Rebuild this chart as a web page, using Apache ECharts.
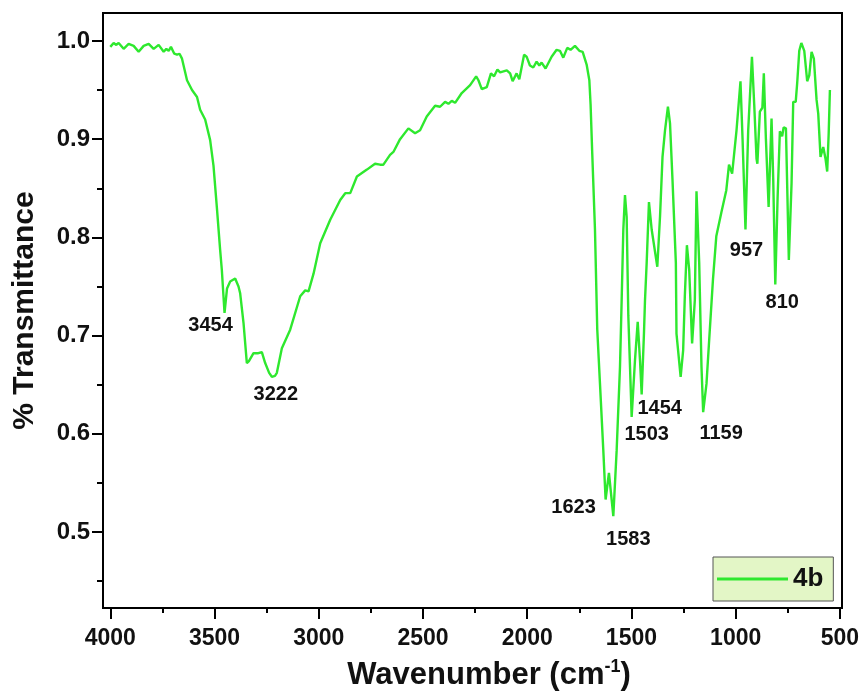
<!DOCTYPE html>
<html>
<head>
<meta charset="utf-8">
<script src="https://cdn.jsdelivr.net/npm/echarts@6/dist/echarts.min.js"></script>
<style>
html,body{margin:0;padding:0;background:#fff;}
#chart{width:865px;height:693px;}
</style>
</head>
<body>
<div id="chart"></div>
<script>
// ---- data ----
const wavenumbers = [
4000,3995,3984,3971,3960,3936,3912,3888,3864,3840,3816,3792,3768,3744,3731,3720,3709,3693,3680,3668,3656,
3632,3608,3584,3569,3545,3521,3505,3489,3473,3465,3452,3440,3425,3401,3385,3377,3361,3345,3335,3313,3290,
3273,3257,3238,3225,3210,3201,3177,3137,3089,3065,3049,3025,2993,2945,2897,2873,2849,2817,2769,2730,2706,
2690,2658,2642,2610,2570,2538,2514,2482,2442,2418,2394,2378,2362,2346,2314,2274,2245,2234,2218,2194,2174,
2159,2143,2130,2098,2082,2070,2051,2038,2015,2003,1987,1971,1955,1942,1931,1912,1883,1859,1843,1827,1808,
1792,1771,1750,1734,1715,1702,1696,1688,1675,1664,1651,1635,1624,1608,1587,1571,1555,1547,1539,1531,1523,
1515,1499,1483,1470,1459,1451,1440,1435,1427,1416,1403,1395,1376,1363,1351,1339,1325,1315,1303,1287,1284,
1264,1252,1244,1234,1223,1209,1196,1188,1175,1164,1156,1140,1127,1109,1093,1069,1045,1032,1017,996,977,
967,953,940,922,911,900,896,884,872,865,855,842,828,820,810,799,788,777,770,759,745,732,724,712,705,695,
685,671,657,647,636,625,612,604,593,580,569,561,554,548
];
const transmittance = [
0.994,0.994,0.998,0.996,0.998,0.992,0.997,0.995,0.989,0.995,0.997,0.992,0.996,0.989,0.992,0.990,0.994,0.987,0.986,0.987,0.982,
0.960,0.950,0.943,0.930,0.920,0.899,0.873,0.831,0.787,0.767,0.723,0.748,0.755,0.758,0.750,0.743,0.713,0.672,0.674,0.682,0.682,
0.683,0.672,0.662,0.658,0.659,0.662,0.687,0.706,0.740,0.746,0.745,0.763,0.794,0.818,0.838,0.845,0.845,0.862,0.869,0.875,0.874,
0.874,0.884,0.887,0.900,0.911,0.906,0.909,0.923,0.934,0.933,0.938,0.936,0.939,0.937,0.947,0.955,0.964,0.960,0.951,0.953,0.967,
0.964,0.971,0.968,0.970,0.967,0.959,0.967,0.961,0.986,0.984,0.975,0.973,0.979,0.975,0.978,0.972,0.984,0.991,0.990,0.983,0.993,
0.991,0.995,0.990,0.989,0.976,0.960,0.935,0.885,0.808,0.706,0.651,0.583,0.533,0.560,0.516,0.583,0.668,0.736,0.808,0.843,0.821,
0.720,0.617,0.675,0.714,0.675,0.640,0.702,0.736,0.774,0.836,0.808,0.806,0.770,0.821,0.882,0.909,0.933,0.916,0.858,0.774,0.702,
0.658,0.685,0.740,0.792,0.767,0.692,0.736,0.847,0.774,0.668,0.622,0.651,0.696,0.757,0.801,0.825,0.848,0.874,0.865,0.909,0.959,
0.900,0.808,0.909,0.984,0.935,0.880,0.875,0.928,0.932,0.967,0.900,0.831,0.921,0.860,0.752,0.840,0.908,0.903,0.912,0.911,0.777,0.855,0.938,0.938,0.957,0.990,
0.998,0.990,0.959,0.965,0.989,0.982,0.940,0.926,0.882,0.892,0.880,0.867,0.905,0.950
];
const peakLabels = ['3454','3222','1623','1583','1503','1454','1159','957','810'];
const peakWavenumbers = [3452,3225,1624,1587,1499,1451,1156,953,810];
const peakTransmittance = [0.723,0.658,0.533,0.516,0.617,0.640,0.622,0.808,0.752];
const xMajorTicks = [500,1000,1500,2000,2500,3000,3500,4000];
const xMinorTicks = [750,1250,1750,2250,2750,3250,3750];
const yMajorTicks = [0.5,0.6,0.7,0.8,0.9,1.0];
const yMinorTicks = [0.45,0.55,0.65,0.75,0.85,0.95];
const seriesName = '4b';

// ---- layout (pixel offsets of peak labels) ----
const labelOffsets = [[-14,13],[4,18],[-32,8],[15,23],[15,17],[18,14],[18,21],[1,21],[7,18]];

const FONT = 'Arial, "Liberation Sans", sans-serif';
const X_MIN = 490, X_MAX = 4035, Y_MIN = 0.4225, Y_MAX = 1.0285;
const lineColor = '#2ee82e';

const chart = echarts.init(document.getElementById('chart'), null, {renderer:'canvas'});
const spectrum = wavenumbers.map((w,i)=>[w, transmittance[i]]);
const peaks = peakWavenumbers.map((w,i)=>({
  value:[w, peakTransmittance[i]],
  name: peakLabels[i],
  label:{offset: labelOffsets[i]}
}));

chart.setOption({
  backgroundColor:'#ffffff',
  animation:false,
  grid:{left:103,right:23,top:13,bottom:85,show:true,borderColor:'#000',borderWidth:2,backgroundColor:'transparent',
    containLabel:false, outerBoundsMode:'none'},
  legend:{
    data:[{name:seriesName, icon:'rect'}], left:713, top:557,
    backgroundColor:'#e3f6c6', borderColor:'#555', borderWidth:1, borderRadius:0,
    padding:[8,10,8,4], itemWidth:71, itemHeight:3,
    itemStyle:{color:lineColor},
    textStyle:{fontSize:26,fontWeight:'bold',color:'#111',fontFamily:FONT,lineHeight:28}
  },
  xAxis:[{
    type:'value', inverse:true, min:X_MIN, max:X_MAX, position:'bottom',
    axisLine:{show:true,lineStyle:{color:'#000',width:2}},
    axisTick:{show:true,customValues:xMajorTicks,length:11,lineStyle:{color:'#000',width:2}},
    axisLabel:{customValues:xMajorTicks,margin:19,fontSize:23,fontWeight:'bold',color:'#111',fontFamily:FONT,
      formatter:v=>String(v)},
    splitLine:{show:false},
    name:'Wavenumber (cm{sup|-1})', nameLocation:'middle', nameGap:50,
    nameTextStyle:{fontSize:31,fontWeight:'bold',color:'#111',fontFamily:FONT,padding:[0,0,0,33],
      rich:{sup:{fontSize:18,fontWeight:'bold',color:'#111',fontFamily:FONT,verticalAlign:'bottom',padding:[0,0,16,0]}}}
  },{
    type:'value', inverse:true, min:X_MIN, max:X_MAX, position:'bottom',
    axisLine:{show:false},
    axisTick:{show:true,customValues:xMinorTicks,length:5,lineStyle:{color:'#000',width:2}},
    axisLabel:{show:false},
    splitLine:{show:false}
  }],
  yAxis:[{
    type:'value', min:Y_MIN, max:Y_MAX, position:'left',
    axisLine:{show:true,lineStyle:{color:'#000',width:2}},
    axisTick:{show:true,customValues:yMajorTicks,length:11,lineStyle:{color:'#000',width:2}},
    axisLabel:{customValues:yMajorTicks,margin:13,fontSize:24,fontWeight:'bold',color:'#111',fontFamily:FONT,
      formatter:v=>Number(v).toFixed(1)},
    splitLine:{show:false},
    name:'% Transmittance', nameLocation:'middle', nameGap:63,
    nameTextStyle:{fontSize:30,fontWeight:'bold',color:'#111',fontFamily:FONT}
  },{
    type:'value', min:Y_MIN, max:Y_MAX, position:'left',
    axisLine:{show:false},
    axisTick:{show:true,customValues:yMinorTicks,length:6,lineStyle:{color:'#000',width:2}},
    axisLabel:{show:false},
    splitLine:{show:false}
  }],
  series:[{
    name:seriesName, type:'line', data:spectrum, xAxisIndex:0, yAxisIndex:0,
    symbol:'none', showSymbol:false, smooth:false,
    lineStyle:{color:lineColor,width:2.4}, itemStyle:{color:lineColor}, z:3
  },{
    name:'peaks', type:'scatter', data:peaks, xAxisIndex:0, yAxisIndex:0,
    symbolSize:0, silent:true, z:4, itemStyle:{opacity:1},
    label:{show:true,position:'inside',formatter:p=>p.name,fontSize:20,fontWeight:'bold',color:'#111',fontFamily:FONT}
  }]
});
</script>
</body>
</html>
